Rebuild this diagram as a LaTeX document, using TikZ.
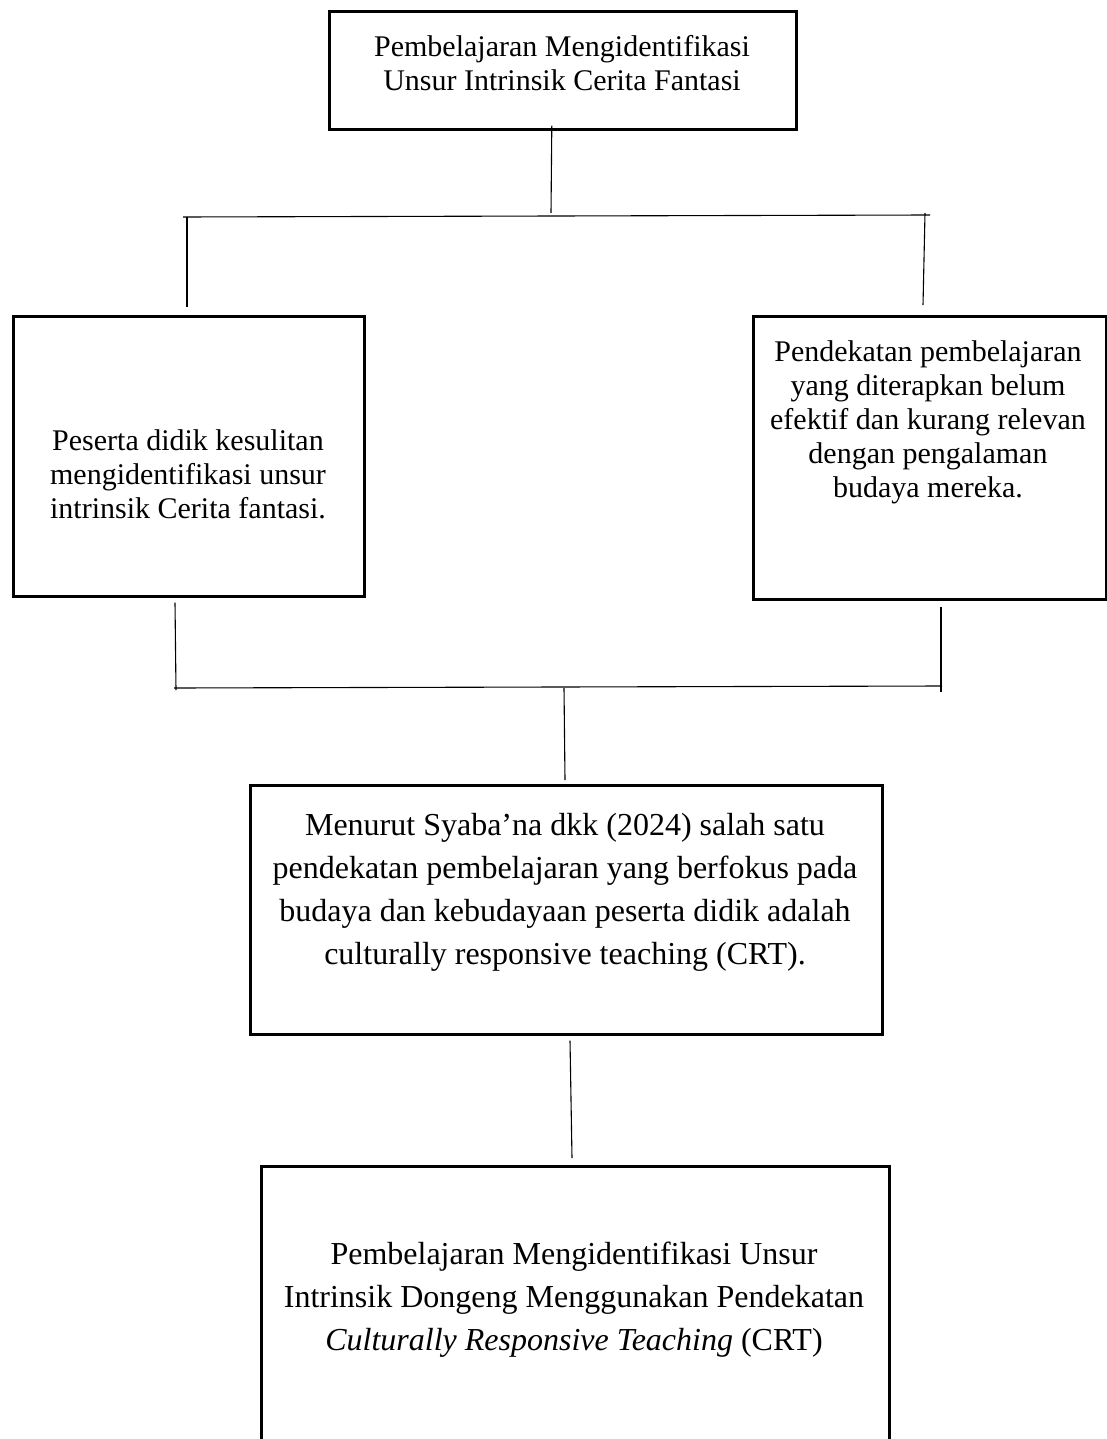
\documentclass[tikz,border=0pt]{standalone}
\usepackage{fontspec}
\setmainfont{Liberation Serif}
\usetikzlibrary{calc}
\begin{document}
\begin{tikzpicture}[x=1pt,y=-1pt,
  box/.style={draw=black,line width=2.6pt,rectangle,anchor=north west,inner sep=0pt},
  smalltxt/.style={align=center,font=\fontsize{30}{34}\selectfont,inner sep=0pt},
  bigtxt/.style={align=center,font=\fontsize{32}{43}\selectfont,inner sep=0pt},
  conn/.style={draw=black,line width=1.1pt}]
\useasboundingbox (0,0) rectangle (1107,1439);
\clip (0,0) rectangle (1107,1439);
\fill[white] (0,0) rectangle (1107,1439);
% boxes
\node[box,minimum width=467pt,minimum height=118pt] (top) at (328,10) {};
\node[box,minimum width=351pt,minimum height=280pt] (left) at (12,315) {};
\node[box,minimum width=353pt,minimum height=283pt] (right) at (752,315) {};
\node[box,minimum width=632pt,minimum height=249pt] (mid) at (249,784) {};
\node[box,minimum width=628pt,minimum height=320pt] (bot) at (260,1165) {};
% texts
\node[smalltxt] (toptxt) at (562,63) {Pembelajaran Mengidentifikasi\\Unsur Intrinsik Cerita Fantasi};
\node[smalltxt] (lefttxt) at (188,474) {Peserta didik kesulitan\\mengidentifikasi unsur\\intrinsik Cerita fantasi.};
\node[smalltxt] (righttxt) at (928,422) {Pendekatan pembelajaran\\yang diterapkan belum\\efektif dan kurang relevan\\dengan pengalaman\\budaya mereka.};
\node[bigtxt] (midtxt) at (565,892) {Menurut Syaba’na dkk (2024) salah satu\\pendekatan pembelajaran yang berfokus pada\\budaya dan kebudayaan peserta didik adalah\\culturally responsive teaching (CRT).};
\node[bigtxt] (bottxt) at (574,1300) {Pembelajaran Mengidentifikasi Unsur\\Intrinsik Dongeng Menggunakan Pendekatan\\\textit{Culturally Responsive Teaching} (CRT)};
% junction coordinates
\coordinate (b1l) at (183,217);
\coordinate (b1r) at (930,215);
\coordinate (b1c) at (551,213);
\coordinate (b1a) at (187,217);
\coordinate (b1b) at (925,213);
\coordinate (b2l) at (174,688);
\coordinate (b2r) at (942,686);
\coordinate (b2a) at (176,690);
\coordinate (b2b) at (941,692);
\coordinate (b2c) at (564,688);
% upper tree
\draw[conn] ($(top.south)+(-11,-5)$) -- (b1c);
\draw[conn] (b1l) -- (b1r);
\draw[conn] (b1a) -- ($(left.north west)+(175,-8)$);
\draw[conn] (b1b) -- ($(right.north west)+(171,-10)$);
% lower tree
\draw[conn] ($(left.south west)+(163,5)$) -- (b2a);
\draw[conn] ($(right.south west)+(189,6)$) -- (b2b);
\draw[conn] (b2l) -- (b2r);
\draw[conn] (b2c) -- ($(mid.north west)+(316,-4)$);
\draw[conn] ($(mid.south west)+(321,5)$) -- ($(bot.north west)+(312,-7)$);
\end{tikzpicture}
\end{document}
